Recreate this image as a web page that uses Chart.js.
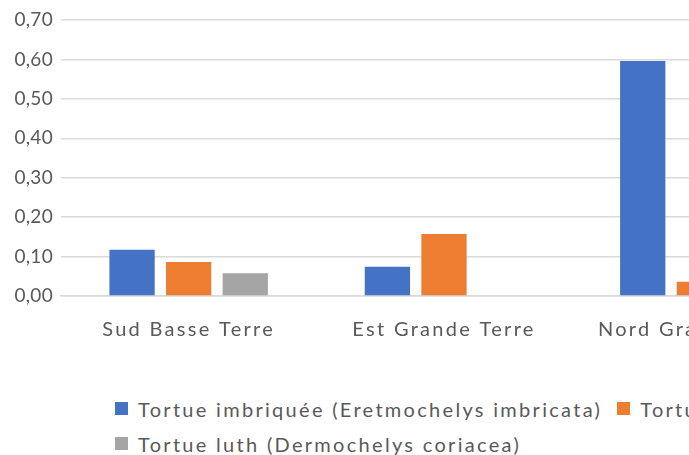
<!DOCTYPE html>
<html>
<head>
<meta charset="utf-8">
<script src="https://cdn.jsdelivr.net/npm/chart.js@4.4.1/dist/chart.umd.min.js"></script>
<style>
  html, body { margin: 0; padding: 0; background: #fff; width: 689px; height: 455px; overflow: hidden; }
  #wrap { position: absolute; left: 0; top: 0; width: 840px; height: 360px; }
  #legend { position: absolute; left: 115px; top: 391px; white-space: nowrap;
            font-family: Lato, "Noto Sans", sans-serif; font-size: 20px; color: #595959; letter-spacing: 2.3px; }
  .row { height: 35px; display: flex; align-items: center; }
  .item { display: flex; align-items: center; margin-right: 15px; }
  .box { width: 13px; height: 13px; margin-right: 10px; flex: none; }
</style>
</head>
<body>
<div id="wrap"><canvas id="chart"></canvas></div>
<div id="legend"></div>
<script>
// sites (the picture is cropped on the right, the third one reads "Nord Gra...")
const categories = ['Sud Basse Terre', 'Est Grande Terre', 'Nord Grande Terre'];

const seriesNames = [
  'Tortue imbriquée (Eretmochelys imbricata)',
  'Tortue verte (Chelonia mydas)',
  'Tortue luth (Dermochelys coriacea)',
];
const imbriquee = [0.117, 0.074, 0.596];
const verte     = [0.086, 0.157, 0.036];
const luth      = [0.058, null, null];

const yTicks = [0, 0.1, 0.2, 0.3, 0.4, 0.5, 0.6, 0.7];

const colors = ['#4472C4', '#ED7D31', '#A5A5A5'];
const legendRows = [[0, 1], [2]];

const FONT = 'Lato, "Noto Sans", sans-serif';
const TEXT = '#595959';
const GRID = '#d9d9d9';

// Excel spreads its labels out a bit; canvas has no css letter-spacing,
// so wrap each scale's label drawing with ctx.letterSpacing
function spaced(px) {
  return (s) => {
    if (s._spaced) return;
    const orig = s.drawLabels;
    s.drawLabels = function (area) {
      this.ctx.save();
      this.ctx.letterSpacing = px;
      orig.call(this, area);
      this.ctx.restore();
    };
    s._spaced = true;
  };
}
const xSpacing = spaced('2.3px');
const ySpacing = spaced('0.3px');

const values = [imbriquee, verte, luth];
const datasets = seriesNames.map((name, i) => ({
  label: name,
  data: values[i],
  backgroundColor: colors[i],
  borderWidth: 0,
  categoryPercentage: 0.665,
  barPercentage: 0.8,
}));

new Chart(document.getElementById('chart'), {
  type: 'bar',
  data: { labels: categories, datasets },
  options: {
    responsive: true,
    maintainAspectRatio: false,
    animation: false,
    devicePixelRatio: 1,
    layout: { padding: { top: 20, right: 13, bottom: 0, left: 0 } },
    plugins: { legend: { display: false }, tooltip: { enabled: false } },
    scales: {
      x: {
        grid: { display: false, drawTicks: false },
        border: { color: GRID, width: 1.5 },
        ticks: { color: TEXT, font: { family: FONT, size: 20 }, padding: 22, maxRotation: 0, autoSkip: false },
        afterFit: (s) => { s.height = 64; xSpacing(s); },
      },
      y: {
        min: 0, max: 0.7,
        afterBuildTicks: (s) => { s.ticks = yTicks.map(v => ({ value: v })); },
        grid: { color: GRID, lineWidth: 1.5, drawTicks: false },
        border: { display: false },
        ticks: {
          color: TEXT, font: { family: FONT, size: 19 }, padding: 8,
          callback: (v) => v.toFixed(2).replace('.', ','),
        },
        afterFit: (s) => { s.width = 61; ySpacing(s); },
      },
    },
  },
});

// legend as html, two rows like the original
const legend = document.getElementById('legend');
legendRows.forEach((row) => {
  const r = document.createElement('div');
  r.className = 'row';
  row.forEach((i) => {
    const it = document.createElement('div');
    it.className = 'item';
    const b = document.createElement('span');
    b.className = 'box';
    b.style.background = colors[i];
    const t = document.createElement('span');
    t.textContent = seriesNames[i];
    it.appendChild(b);
    it.appendChild(t);
    r.appendChild(it);
  });
  legend.appendChild(r);
});
</script>
</body>
</html>
